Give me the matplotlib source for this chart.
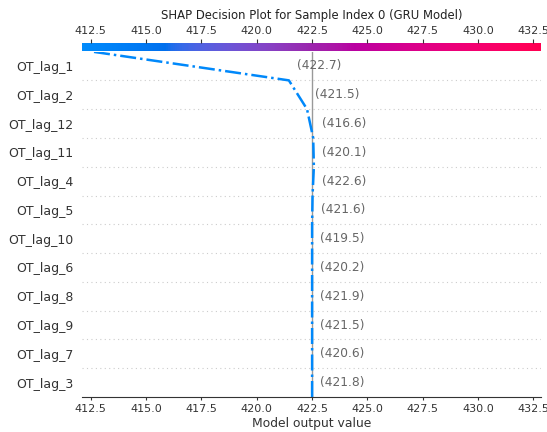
import numpy as np
import matplotlib
matplotlib.use("Agg")
import matplotlib.pyplot as plt
from matplotlib.colors import LinearSegmentedColormap, Normalize
from matplotlib.cm import ScalarMappable

# features from bottom to top of the plot
features = ["OT_lag_3", "OT_lag_7", "OT_lag_9", "OT_lag_8", "OT_lag_6", "OT_lag_10",
            "OT_lag_5", "OT_lag_4", "OT_lag_11", "OT_lag_12", "OT_lag_2", "OT_lag_1"]
feature_values = [421.8, 420.6, 421.5, 421.9, 420.2, 419.5,
                  421.6, 422.6, 420.1, 416.6, 421.5, 422.7]
shap_values = [0.0, 0.0, 0.0, 0.0, 0.0, 0.0,
               0.02, 0.06, -0.03, -0.28, -0.82, -8.90]
base_value = 422.5
x_ticks = [412.5, 415.0, 417.5, 420.0, 422.5, 425.0, 427.5, 430.0, 432.5]
x_range = (412.09, 432.83)
title = "SHAP Decision Plot for Sample Index 0 (GRU Model)"


def lch_to_rgb(l, c, h):
    a = c * np.cos(h)
    b = c * np.sin(h)
    fy = (l + 16) / 116
    fx = fy + a / 500
    fz = fy - b / 200
    def finv(t):
        return np.where(t > 6 / 29, t ** 3, 3 * (6 / 29) ** 2 * (t - 4 / 29))
    xyz = np.array([0.95047 * finv(fx), finv(fy), 1.08883 * finv(fz)])
    m = np.array([[3.2406, -1.5372, -0.4986],
                  [-0.9689, 1.8758, 0.0415],
                  [0.0557, -0.2040, 1.0570]])
    rgb = m @ xyz
    rgb = np.where(rgb > 0.0031308, 1.055 * np.abs(rgb) ** (1 / 2.4) - 0.055, 12.92 * rgb)
    return np.clip(rgb, 0, 1)


# shap style red/blue map
n = 100
ls = list(np.linspace(54., 40., n // 2)) + list(np.linspace(40., 54., n // 2))
cs = np.linspace(70., 90., n)
hs = np.linspace(4.6588, 0.35470565 + 2 * np.pi, n)
cols = [lch_to_rgb(l, c, h) for l, c, h in zip(ls, cs, hs)]
cols[0] = np.array([0.0, 0.54337757, 0.98337906])
cols[-1] = np.array([1.0, 0.0, 0.31796406])
red_blue = LinearSegmentedColormap.from_list("red_blue", cols)

cumsum = np.concatenate([[base_value], base_value + np.cumsum(shap_values)])
y_pos = np.arange(len(features) + 1)
norm = Normalize(*x_range)

fig = plt.figure(figsize=(5.47, 4.32), dpi=100)
ax = fig.add_axes([0.1494, 0.081, 0.8391, 0.7996])
cax = fig.add_axes([0.1494, 0.8819, 0.8391, 0.0178])

for i in range(1, len(features)):
    ax.axhline(i, color="#cccccc", lw=0.8, dashes=(1, 3), zorder=-1)
ax.axvline(base_value, color="#999999", lw=1, zorder=-1)

ax.plot(cumsum, y_pos, color=red_blue(norm(cumsum[-1])), lw=1.8, linestyle="-.")

for i, v in enumerate(feature_values):
    x = max(cumsum[i], cumsum[i + 1])
    ax.annotate("(%.1f)" % v, (x, i + 0.5), xytext=(6, 0), textcoords="offset points",
                ha="left", va="center", color="#666666", fontsize=8.8)

ax.set_xlim(*x_range)
ax.set_ylim(0, len(features))
ax.set_yticks(np.arange(len(features)) + 0.5)
ax.set_yticklabels(features, fontsize=9, color="#333333")
ax.tick_params(axis="y", length=0, pad=6)
ax.set_xticks(x_ticks)
ax.tick_params(axis="x", labelsize=8, colors="#333333", length=2.5, pad=2.5)
ax.spines["left"].set_visible(False)
ax.spines["right"].set_visible(False)
ax.spines["top"].set_visible(False)
ax.spines["bottom"].set_color("#333333")
ax.set_xlabel("Model output value", fontsize=8.9, color="#333333", labelpad=2)

cb = fig.colorbar(ScalarMappable(norm=norm, cmap=red_blue), cax=cax, orientation="horizontal")
cb.outline.set_visible(False)
cax.xaxis.set_ticks_position("top")
cax.xaxis.set_label_position("top")
cax.set_xticks(x_ticks)
cax.tick_params(labelsize=8, colors="#333333", length=3, pad=2)

fig.text(0.570, 0.963, title, ha="center", va="center", fontsize=8.4, color="#222222")

fig.savefig("out.png", dpi=100)
